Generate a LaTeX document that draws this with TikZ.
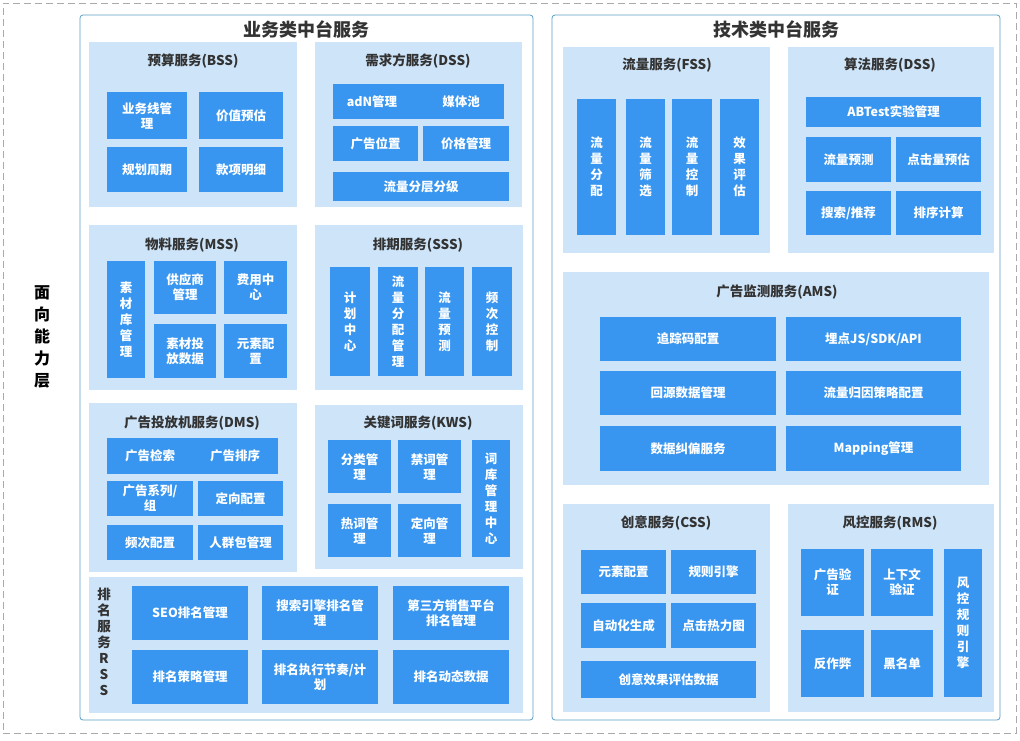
\documentclass[tikz,border=0pt]{standalone}
\usepackage{fontspec}
\setmainfont{Noto Sans CJK SC}
\definecolor{boxblue}{HTML}{3896F0}
\definecolor{panelblue}{HTML}{CDE4F9}
\definecolor{frameblue}{HTML}{5B9FC6}
\definecolor{titlegray}{HTML}{333333}
\definecolor{dashgray}{HTML}{AAAAAA}
\tikzset{
  every node/.style={inner sep=0pt, outer sep=0pt},
  outerframe/.style={draw=dashgray, line width=1pt, dash pattern=on 7pt off 4pt},
  container/.style={draw=frameblue, line width=0.8pt, rounded corners=3pt, fill=white},
  panel/.style={fill=panelblue},
  bb/.style={fill=boxblue, text=white, align=center, font=\bfseries\fontsize{12.5}{15}\selectfont},
  vb/.style={fill=boxblue, text=white, align=center, font=\bfseries\fontsize{12.5}{16}\selectfont},
  btext/.style={text=white, font=\bfseries\fontsize{12.5}{15}\selectfont},
  ptitle/.style={text=titlegray, font=\bfseries\fontsize{13.5}{16}\selectfont},
  ctitle/.style={text=titlegray, font=\bfseries\fontsize{18}{20}\selectfont},
  vtitle/.style={text=titlegray, align=center, font=\bfseries\fontsize{13.5}{16}\selectfont},
  sidetitle/.style={text=black, align=center, font=\bfseries\fontsize{16}{22}\selectfont},
}
% style, name, x1, y1, x2, y2, text
\newcommand{\rbox}[7]{%
  \node[#1, minimum width={(#5)-(#3)}, minimum height={(#6)-(#4)}] (#2)
    at ({((#3)+(#5))/2},{((#4)+(#6))/2}) {#7};}
\begin{document}
\begin{tikzpicture}[x=1pt,y=-1pt]
\useasboundingbox (0,0) rectangle (1020,740);
\rbox{outerframe}{outer}{3}{3}{1016}{733}{}
\node[sidetitle] (side) at (42,337) {面\\向\\能\\力\\层};

% containers
\rbox{container}{biz}{80}{15}{533}{720}{}
\node[ctitle] (biz-t) at (306,29) {业务类中台服务};
\rbox{container}{tech}{552}{15}{1000}{720}{}
\node[ctitle] (tech-t) at (776,29) {技术类中台服务};

% BSS
\rbox{panel}{bss}{89}{42}{297}{207}{}
\node[ptitle] (bss-t) at (193,61) {预算服务(BSS)};
\rbox{bb}{b1}{107}{92}{187}{139}{业务线管\\理}
\rbox{bb}{b2}{199}{92}{283}{139}{价值预估}
\rbox{bb}{b3}{107}{147}{187}{192}{规划周期}
\rbox{bb}{b4}{199}{147}{283}{192}{款项明细}

% DSS
\rbox{panel}{dss}{315}{42}{522}{207}{}
\node[ptitle] (dss-t) at (418,61) {需求方服务(DSS)};
\rbox{bb}{d1}{333}{84}{504}{119}{}
\node[btext] (d1a) at (372,101.5) {adN管理};
\node[btext] (d1b) at (461,101.5) {媒体池};
\rbox{bb}{d2}{333}{126}{418}{161}{广告位置}
\rbox{bb}{d3}{423}{126}{509}{161}{价格管理}
\rbox{bb}{d4}{333}{172}{509}{201}{流量分层分级}

% MSS
\rbox{panel}{mss}{89}{225}{297}{390}{}
\node[ptitle] (mss-t) at (192,245) {物料服务(MSS)};
\rbox{vb}{m1}{107}{261}{145}{378}{素\\材\\库\\管\\理}
\rbox{bb}{m2}{154}{261}{216}{314}{供应商\\管理}
\rbox{bb}{m3}{224}{261}{287}{314}{费用中\\心}
\rbox{bb}{m4}{154}{324}{216}{378}{素材投\\放数据}
\rbox{bb}{m5}{224}{324}{287}{378}{元素配\\置}

% SSS
\rbox{panel}{sss}{315}{225}{523}{390}{}
\node[ptitle] (sss-t) at (418,245) {排期服务(SSS)};
\rbox{vb}{s1}{330}{267}{370}{376}{计\\划\\中\\心}
\rbox{vb}{s2}{378}{267}{418}{376}{流\\量\\分\\配\\管\\理}
\rbox{vb}{s3}{425}{267}{464}{376}{流\\量\\预\\测}
\rbox{vb}{s4}{472}{267}{512}{376}{频\\次\\控\\制}

% DMS
\rbox{panel}{dms}{89}{403}{297}{572}{}
\node[ptitle] (dms-t) at (192,423) {广告投放机服务(DMS)};
\rbox{bb}{g1}{107}{438}{278}{474}{}
\node[btext] (g1a) at (150,456) {广告检索};
\node[btext] (g1b) at (235,456) {广告排序};
\rbox{bb}{g2}{107}{481}{193}{516}{广告系列/\\组}
\rbox{bb}{g3}{198}{481}{283}{516}{定向配置}
\rbox{bb}{g4}{107}{525}{193}{560}{频次配置}
\rbox{bb}{g5}{198}{525}{283}{560}{人群包管理}

% KWS
\rbox{panel}{kws}{315}{405}{523}{569}{}
\node[ptitle] (kws-t) at (418,423) {关键词服务(KWS)};
\rbox{bb}{w1}{328}{440}{391}{493}{分类管\\理}
\rbox{bb}{w2}{398}{440}{461}{493}{禁词管\\理}
\rbox{bb}{w3}{328}{504}{391}{557}{热词管\\理}
\rbox{bb}{w4}{398}{504}{461}{557}{定向管\\理}
\rbox{vb}{w5}{472}{440}{510}{557}{词\\库\\管\\理\\中\\心}

% RSS
\rbox{panel}{rss}{89}{577}{523}{713}{}
\node[vtitle] (rss-t) at (104,642) {排\\名\\服\\务\\R\\S\\S};
\rbox{bb}{r1}{132}{586}{248}{640}{SEO排名管理}
\rbox{bb}{r2}{262}{586}{378}{640}{搜索引擎排名管\\理}
\rbox{bb}{r3}{393}{586}{509}{640}{第三方销售平台\\排名管理}
\rbox{bb}{r4}{132}{650}{248}{704}{排名策略管理}
\rbox{bb}{r5}{262}{650}{378}{704}{排名执行节奏/计\\划}
\rbox{bb}{r6}{393}{650}{509}{704}{排名动态数据}

% FSS
\rbox{panel}{fss}{563}{47}{770}{253}{}
\node[ptitle] (fss-t) at (667,65) {流量服务(FSS)};
\rbox{vb}{f1}{577}{99}{616}{235}{流\\量\\分\\配}
\rbox{vb}{f2}{626}{99}{665}{235}{流\\量\\筛\\选}
\rbox{vb}{f3}{672}{99}{712}{235}{流\\量\\控\\制}
\rbox{vb}{f4}{720}{99}{759}{235}{效\\果\\评\\估}

% Algorithm DSS
\rbox{panel}{alg}{788}{47}{994}{253}{}
\node[ptitle] (alg-t) at (890,65) {算法服务(DSS)};
\rbox{bb}{a1}{806}{97}{981}{127}{ABTest实验管理}
\rbox{bb}{a2}{806}{137}{891}{182}{流量预测}
\rbox{bb}{a3}{896}{137}{981}{182}{点击量预估}
\rbox{bb}{a4}{806}{191}{891}{235}{搜索/推荐}
\rbox{bb}{a5}{896}{191}{981}{235}{排序计算}

% AMS
\rbox{panel}{ams}{563}{272}{989}{485}{}
\node[ptitle] (ams-t) at (777,292) {广告监测服务(AMS)};
\rbox{bb}{p1}{600}{317}{776}{361}{追踪码配置}
\rbox{bb}{p2}{786}{317}{961}{361}{埋点JS/SDK/API}
\rbox{bb}{p3}{600}{371}{776}{415}{回源数据管理}
\rbox{bb}{p4}{786}{371}{961}{415}{流量归因策略配置}
\rbox{bb}{p5}{600}{426}{776}{471}{数据纠偏服务}
\rbox{bb}{p6}{786}{426}{961}{471}{Mapping管理}

% CSS
\rbox{panel}{css}{563}{504}{770}{712}{}
\node[ptitle] (css-t) at (666,523) {创意服务(CSS)};
\rbox{bb}{c1}{581}{550}{666}{594}{元素配置}
\rbox{bb}{c2}{671}{550}{756}{594}{规则引擎}
\rbox{bb}{c3}{581}{603}{666}{648}{自动化生成}
\rbox{bb}{c4}{671}{603}{756}{648}{点击热力图}
\rbox{bb}{c5}{581}{661}{756}{698}{创意效果评估数据}

% RMS
\rbox{panel}{rms}{788}{504}{994}{712}{}
\node[ptitle] (rms-t) at (890,523) {风控服务(RMS)};
\rbox{bb}{x1}{801}{549}{864}{616}{广告验\\证}
\rbox{bb}{x2}{871}{549}{933}{616}{上下文\\验证}
\rbox{bb}{x3}{801}{630}{864}{697}{反作弊}
\rbox{bb}{x4}{871}{630}{933}{697}{黑名单}
\rbox{vb}{x5}{944}{549}{982}{697}{风\\控\\规\\则\\引\\擎}
\end{tikzpicture}
\end{document}
